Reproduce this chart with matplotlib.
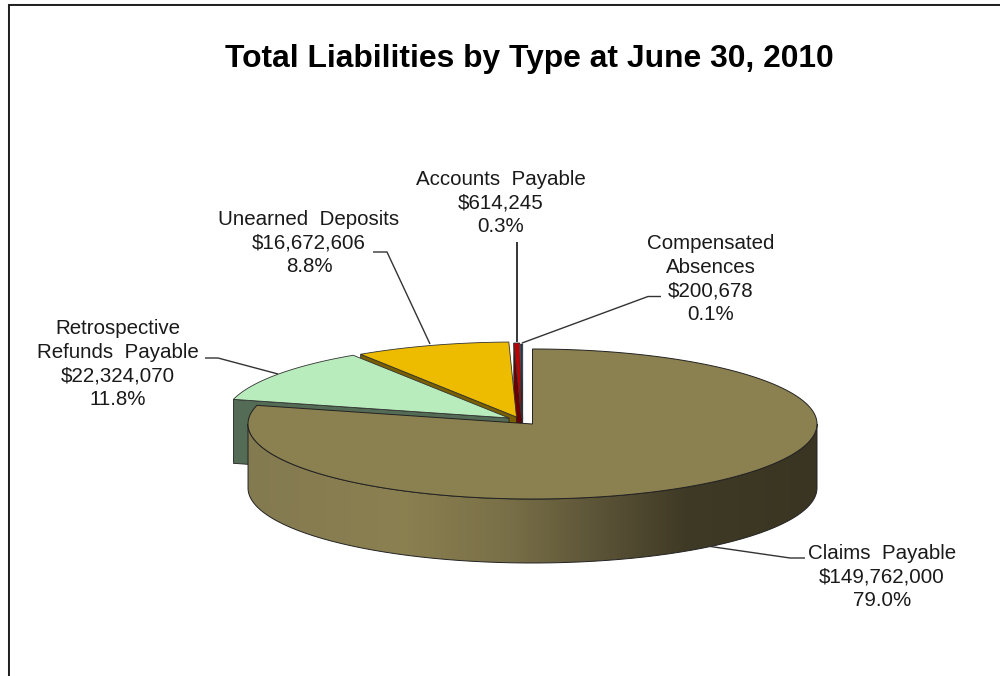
import numpy as np
import matplotlib
matplotlib.use("Agg")
import matplotlib.pyplot as plt
from matplotlib.colors import LinearSegmentedColormap
from matplotlib.patches import PathPatch, Polygon
from matplotlib.path import Path

plt.rcParams["font.family"] = ["Liberation Sans", "DejaVu Sans"]

# Liabilities in dollars, clockwise from twelve o'clock
categories = ["Claims  Payable", "Retrospective\nRefunds  Payable", "Unearned  Deposits",
              "Accounts  Payable", "Compensated\nAbsences"]
amounts = [149762000, 22324070, 16672606, 614245, 200678]
percent_labels = ["79.0%", "11.8%", "8.8%", "0.3%", "0.1%"]
amount_labels = ["$149,762,000", "$22,324,070", "$16,672,606", "$614,245", "$200,678"]

top_colors = ["#8B8050", "#B9ECBC", "#EDBC00", "#C00000", "#1F3864"]
side_colors = [None, "#546B55", "#7A5F00", "#6A0000", "#101C33"]

# Apex of each slice after the exploded offset, in pixel-like axes units
apexes = [(532.5, 424), (509, 418), (516.5, 417), (521.5, 418), (522.7, 419)]
RX, RY, DEPTH = 284.5, 75, 64

label_centers = [(882, 577), (118, 364), (309, 243), (501, 203), (711, 279)]
leaders = [
    [(707, 546), (790, 558), (805, 558)],
    [(278, 374), (218, 358), (205, 358)],
    [(430, 344), (387, 252), (373, 252)],
    [(522, 343), (648, 296.5), (661, 296.5)],
]
accounts_leader = [(516.5, 242), (516.5, 342)]

fig = plt.figure(figsize=(10, 6.76), dpi=100)
ax = fig.add_axes([0, 0, 1, 1])
ax.set_xlim(0, 1000)
ax.set_ylim(676, 0)
ax.axis("off")


def rim(apex, t0, t1, drop=0.0, n=200):
    """Points on the elliptical rim between two clockwise angles in degrees."""
    t = np.radians(np.linspace(t0, t1, n))
    return np.column_stack((apex[0] + RX * np.sin(t), apex[1] - RY * np.cos(t) + drop))


edges = np.cumsum([0] + amounts) / sum(amounts) * 360.0

# Back slices: radial side faces first, then top faces, green over the rest
for order, i in enumerate([4, 3, 2, 1]):
    a, t0, t1 = apexes[i], edges[i], edges[i + 1]
    corner = rim(a, t0, t0, n=1)[0]
    side = [corner, a, (a[0], a[1] + DEPTH), (corner[0], corner[1] + DEPTH)]
    ax.add_patch(Polygon(side, closed=True, fc=side_colors[i], ec="#222222", lw=0.6,
                         zorder=2 + order * 0.01))
for order, i in enumerate([4, 3, 2, 1]):
    a, t0, t1 = apexes[i], edges[i], edges[i + 1]
    pts = np.vstack(([a], rim(a, t0, t1)))
    ax.add_patch(Polygon(pts, closed=True, fc=top_colors[i], ec="#333333", lw=0.6,
                         zorder=3 + order * 0.01))

# Front wall of the claims slice with its horizontal shading
a = apexes[0]
upper = rim(a, 90, 270)
lower = rim(a, 270, 90, drop=DEPTH)
wall = Path(np.vstack((upper, lower, upper[:1])), closed=False)
shade = LinearSegmentedColormap.from_list(
    "wall",
    [(0.0, "#847A50"), (0.27, "#8B8050"), (0.45, "#7A7048"), (0.62, "#5B5337"),
     (0.77, "#3F3A25"), (1.0, "#3A3522")],
)
img = ax.imshow(np.linspace(0, 1, 512)[None, :], cmap=shade, aspect="auto",
                extent=(a[0] - RX, a[0] + RX, 600, 400), zorder=4)
img.set_clip_path(PathPatch(wall, transform=ax.transData))
ax.add_patch(PathPatch(wall, fc="none", ec="#222222", lw=0.7, zorder=4.1))
ax.set_xlim(0, 1000)
ax.set_ylim(676, 0)

# Top face of the claims slice
pts = np.vstack(([a], rim(a, edges[0], edges[1], n=500)))
ax.add_patch(Polygon(pts, closed=True, fc=top_colors[0], ec="#222222", lw=0.7, zorder=5))

# Leader lines
for path in leaders:
    xs, ys = zip(*path)
    ax.plot(xs, ys, color="#333333", lw=1.0, zorder=6, solid_capstyle="butt")
xs, ys = zip(*accounts_leader)
ax.plot(xs, ys, color="black", lw=1.1, zorder=6.1, solid_capstyle="butt")

# Slice labels
for name, amount, pct, (x, y) in zip(categories, amount_labels, percent_labels, label_centers):
    ax.text(x, y, f"{name}\n{amount}\n{pct}", ha="center", va="center", linespacing=1.31,
            fontsize=14.8, color="#1A1A1A", zorder=7)

ax.text(529, 59.5, "Total Liabilities by Type at June 30, 2010", ha="center", va="center",
        fontsize=22.9, fontweight="bold", color="black")

# Slide frame running off the right and bottom edges
ax.plot([7.5, 7.5], [676, 3.5], color="#AAAAAA", lw=0.8)
ax.plot([7.5, 1000], [3.5, 3.5], color="#AAAAAA", lw=0.8)
ax.plot([9, 9, 1000], [676, 5, 5], color="#111111", lw=1.3, solid_joinstyle="miter")

fig.savefig("out.png", dpi=100)
